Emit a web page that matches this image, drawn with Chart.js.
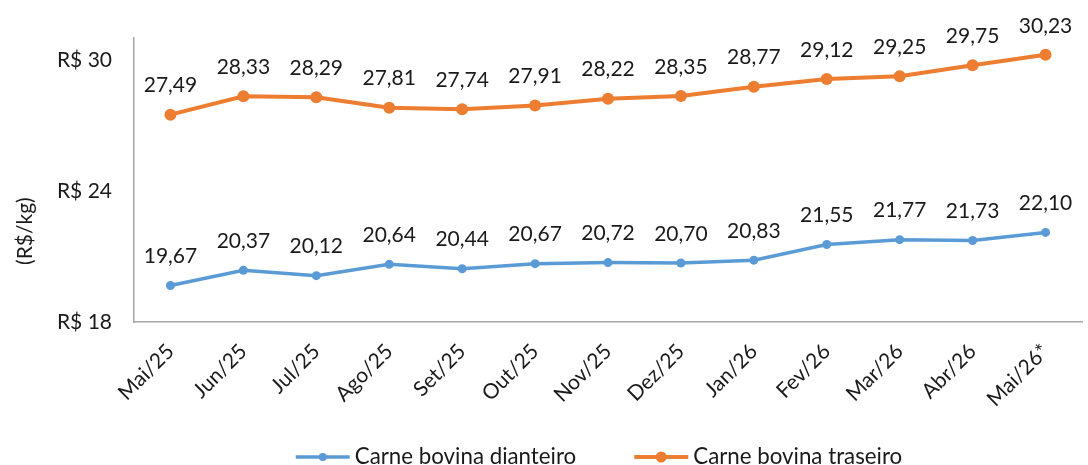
<!DOCTYPE html>
<html>
<head>
<meta charset="utf-8">
<script src="https://cdn.jsdelivr.net/npm/chart.js@4"></script>
<style>
  html, body { margin: 0; padding: 0; background: #fff; }
  #wrap { width: 1088px; height: 465px; position: relative; }
</style>
</head>
<body>
<div id="wrap"><canvas id="chart"></canvas></div>
<script>
const months = ['Mai/25', 'Jun/25', 'Jul/25', 'Ago/25', 'Set/25', 'Out/25', 'Nov/25', 'Dez/25', 'Jan/26', 'Fev/26', 'Mar/26', 'Abr/26', 'Mai/26*'];
const dianteiro = [19.67, 20.37, 20.12, 20.64, 20.44, 20.67, 20.72, 20.70, 20.83, 21.55, 21.77, 21.73, 22.10];
const traseiro = [27.49, 28.33, 28.29, 27.81, 27.74, 27.91, 28.22, 28.35, 28.77, 29.12, 29.25, 29.75, 30.23];
const yTicks = [18, 24, 30];

const FONT = 'Lato, "Open Sans", sans-serif';
const TEXT = '#1a1a1a';

const fmt = v => v.toFixed(2).replace('.', ',');

// value labels above each point
const valueLabels = {
    id: 'valueLabels',
    afterDatasetsDraw(chart) {
        const ctx = chart.ctx;
        ctx.save();
        ctx.font = '21px ' + FONT;
        ctx.fillStyle = TEXT;
        ctx.textAlign = 'center';
        ctx.textBaseline = 'middle';
        chart.data.datasets.forEach((ds, i) => {
            chart.getDatasetMeta(i).data.forEach((pt, j) => {
                ctx.fillText(fmt(ds.data[j]), pt.x, pt.y - 29);
            });
        });
        ctx.restore();
    }
};

// axis title and bottom legend (line + dot markers)
const extras = {
    id: 'extras',
    afterDraw(chart) {
        const ctx = chart.ctx;
        const area = chart.chartArea;
        ctx.save();
        ctx.font = '21px ' + FONT;
        ctx.fillStyle = TEXT;
        ctx.translate(25, area.top + (area.bottom - area.top) * 0.68);
        ctx.rotate(-Math.PI / 2);
        ctx.textAlign = 'center';
        ctx.textBaseline = 'middle';
        ctx.fillText('(R$/kg)', 0, 0);
        ctx.restore();

        ctx.save();
        ctx.font = '22.3px ' + FONT;
        ctx.textBaseline = 'middle';
        const y = 457;
        const items = chart.data.datasets.map(ds => ({
            ds, w: 54 + 5 + ctx.measureText(ds.label).width
        }));
        const gap = 58;
        let total = items.reduce((s, it) => s + it.w, 0) + gap * (items.length - 1);
        let x = chart.width / 2 + 55 - total / 2;
        items.forEach(it => {
            ctx.strokeStyle = it.ds.borderColor;
            ctx.lineWidth = it.ds.borderWidth;
            ctx.beginPath();
            ctx.moveTo(x, y);
            ctx.lineTo(x + 54, y);
            ctx.stroke();
            ctx.fillStyle = it.ds.borderColor;
            ctx.beginPath();
            ctx.arc(x + 27, y, it.ds.pointRadius - 0.5, 0, Math.PI * 2);
            ctx.fill();
            ctx.fillStyle = TEXT;
            ctx.fillText(it.ds.label, x + 59, y);
            x += it.w + gap;
        });
        ctx.restore();
    }
};

new Chart(document.getElementById('chart'), {
    type: 'line',
    data: {
        labels: months,
        datasets: [
            {
                label: 'Carne bovina dianteiro',
                data: dianteiro,
                borderColor: '#5B9BD5',
                backgroundColor: '#5B9BD5',
                borderWidth: 3.5,
                pointRadius: 4.5,
                pointHoverRadius: 4.5,
                pointBorderWidth: 0,
                tension: 0,
                clip: false
            },
            {
                label: 'Carne bovina traseiro',
                data: traseiro,
                borderColor: '#ED7D31',
                backgroundColor: '#ED7D31',
                borderWidth: 4,
                pointRadius: 6,
                pointHoverRadius: 6,
                pointBorderWidth: 0,
                tension: 0,
                clip: false
            }
        ]
    },
    options: {
        responsive: true,
        maintainAspectRatio: false,
        animation: false,
        events: [],
        layout: { padding: { top: 38, right: 3, left: 0, bottom: 0 } },
        plugins: {
            legend: { display: false },
            tooltip: { enabled: false }
        },
        scales: {
            x: {
                offset: true,
                grid: { display: false, drawTicks: false },
                border: { color: '#A6A6A6', width: 1.5 },
                ticks: {
                    color: TEXT,
                    font: { family: FONT, size: 21 },
                    maxRotation: 45,
                    minRotation: 45,
                    padding: 17,
                    autoSkip: false
                },
                afterFit(scale) { scale.height = 143; }
            },
            y: {
                min: 18,
                max: 31,
                grid: { display: false, drawTicks: false },
                border: { color: '#A6A6A6', width: 1.5 },
                afterBuildTicks(scale) { scale.ticks = yTicks.map(v => ({ value: v })); },
                ticks: {
                    color: TEXT,
                    font: { family: FONT, size: 21 },
                    padding: 22,
                    callback: v => 'R$ ' + v
                },
                afterFit(scale) { scale.width = 134; }
            }
        }
    },
    plugins: [valueLabels, extras]
});
</script>
</body>
</html>
